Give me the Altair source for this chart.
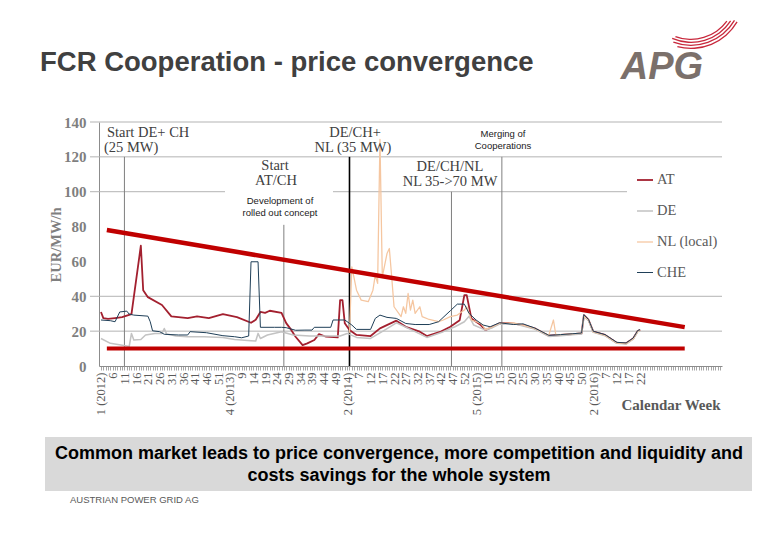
import json
import altair as alt
import pandas as pd

# ---------------- data ----------------
series_names = ["AT", "DE", "NL (local)", "CHE"]
series_colors = ["#A3202F", "#C3C3C3", "#F5C6A0", "#1F3F58"]
series_widths = [1.8, 1.0, 1.0, 1.3]

# week index: 0 = week 1 of 2012
weeks_at = [0, 1, 3, 6, 9, 13, 17, 18, 20, 26, 30, 37, 41, 46, 52, 58, 64, 66, 68, 70,
            72, 77, 79, 81, 83, 86, 88, 91, 93, 96, 101, 102, 103, 104, 106, 109, 115, 119, 126, 130,
            136, 139, 145, 149, 153, 155, 156, 158, 162, 164, 167, 170, 174, 180, 185, 191, 196, 201, 205, 206,
            208, 210, 215, 220, 224, 227, 229, 230]
at = [31, 27.5, 27, 27.5, 28, 29.8, 69, 43.5, 39.5, 35, 28.5, 27.5, 28.5, 27.5, 29.8, 28, 24.8, 26.5, 31, 30.5,
      31.7, 30.5, 24.6, 21, 16.8, 12, 13, 14.9, 18.3, 16.8, 16.4, 37.8, 37.8, 24.5, 20.6, 17.8, 17.2, 21.6, 26, 22.5,
      19.7, 17.2, 19.7, 22.5, 26.3, 40.7, 40.7, 27.3, 23.5, 20.6, 22.5, 24.5, 24.8, 23.5, 21.6, 17.4, 17.8, 18.3, 18.7, 29.2,
      26.4, 19.7, 17.8, 13.4, 13, 15.8, 20.2, 20.6]

weeks_de = [0, 4, 11, 12, 13, 14, 17, 19, 23, 26, 27, 28, 32, 37, 44, 52, 57, 64, 66, 67,
            68, 71, 77, 82, 89, 102, 105, 109, 115, 121, 126, 132, 139, 146, 151, 155, 157, 159, 164, 167,
            170, 176, 180, 185, 191, 196, 201, 205, 206, 208, 210, 215, 220, 224, 227, 229, 230]
de = [15.8, 13, 11.5, 11, 18.7, 14.9, 15.2, 17.8, 18.7, 18.7, 21.5, 18.3, 17.2, 16.8, 16.8, 16.4, 15.2, 14.5, 14.3, 18.7,
      15.8, 17.8, 19.7, 17.8, 17.2, 17.2, 18.7, 16.4, 15.8, 20.6, 24.8, 21, 16.4, 19.7, 22.5, 25.4, 28.6, 23.5, 20.6, 22,
      24, 24.4, 23, 21.2, 17, 17.4, 17.9, 18.3, 28.5, 26, 19.3, 17.4, 13, 12.6, 15.4, 19.8, 20.2]

weeks_nl = [106, 107, 109, 111, 114, 116, 117, 118, 119, 120, 122, 123, 124, 125, 128, 129, 130, 131, 132, 133,
            134, 136, 137, 140, 144, 146, 149, 152, 155, 156, 158, 162, 164, 167, 170, 176, 180, 185, 191, 193,
            194, 196, 201, 205, 206, 208, 210, 215, 220, 224, 227, 229, 230]
nl = [19, 56.9, 43.5, 37.8, 36.9, 43.5, 52.1, 47.4, 130, 51.2, 64.5, 67.4, 51.2, 34, 28.3, 34, 30.2, 41.6, 32.1, 37.8,
      30.2, 34, 28.3, 26.7, 25.4, 26.4, 28.3, 29.2, 32.1, 34, 26.4, 24.5, 21, 22.5, 24.5, 24.8, 23.5, 21.6, 17.6, 26.4,
      18, 18, 18.5, 18.9, 28.8, 26.2, 19.5, 17.6, 13.2, 12.8, 15.6, 20, 20.4]

weeks_che = [0, 4, 6, 8, 11, 12, 14, 20, 21, 22, 25, 27, 33, 37, 38, 45, 52, 57, 60, 63,
             64, 67, 68, 74, 77, 79, 83, 87, 90, 91, 98, 99, 104, 107, 109, 115, 117, 119, 122, 126,
             130, 134, 140, 144, 149, 152, 155, 157, 160, 163, 166, 170, 176, 180, 185, 191, 196, 201, 205, 206,
             208, 210, 215, 220, 224, 227, 229, 230]
che = [26.4, 26, 25.4, 31, 31.5, 29.8, 29.2, 28.6, 25.4, 20.2, 19.7, 18.2, 17.8, 17.8, 19.7, 19.1, 17.4, 16.8, 16.2, 17.2,
       59.8, 59.8, 22.2, 22.2, 22.2, 22, 20.5, 20.6, 20.6, 22.2, 22.2, 26.4, 26.4, 23.5, 21, 21, 27.3, 29.2, 27.9, 27.3,
       24.4, 23.8, 23.8, 25.4, 31.7, 35.5, 35.5, 30.2, 26.4, 23.5, 22.5, 24.8, 23.8, 24.2, 21.8, 17.6, 18, 18.5, 18.9, 29.4,
       26.6, 19.9, 18, 13.6, 13.2, 16, 20.4, 20.8]

# trend annotations (red lines)
trend_weeks = [2.5, 249]
trend_values = [78, 22.3]
floor_weeks = [2.5, 249]
floor_values = [10, 10]

# events (vertical lines)
event_names = ["Start DE+CH", "Start AT/CH", "DE/CH+NL", "DE/CH/NL 70", "Merging"]
event_weeks = [10, 78, 106, 149.5, 171]
event_tops = [120, 81, 120, 100, 120]

grid_values = [20, 40, 100, 120, 140]
y_ticks = [0, 20, 40, 60, 80, 100, 120, 140]

x_labels = ["1 (2012)", "6", "11", "16", "21", "26", "31", "36", "41", "46", "51",
            "4 (2013)", "9", "14", "19", "24", "29", "34", "39", "44", "49",
            "2 (2014)", "7", "12", "17", "22", "27", "32", "37", "42", "47", "52",
            "5 (2015)", "10", "15", "20", "25", "30", "35", "40", "45", "50",
            "2 (2016)", "7", "12", "17", "22"]

# ---------------- tables ----------------
rows = []
for name, wk, vals in [("AT", weeks_at, at), ("DE", weeks_de, de),
                       ("NL (local)", weeks_nl, nl), ("CHE", weeks_che, che)]:
    assert len(wk) == len(vals), name
    for w, v in zip(wk, vals):
        rows.append({"series": name, "week": w, "price": v})
df = pd.DataFrame(rows)

trend_df = pd.DataFrame({"week": trend_weeks, "price": trend_values})
floor_df = pd.DataFrame({"week": floor_weeks, "price": floor_values})
events = pd.DataFrame({"event": event_names, "week": event_weeks, "top": event_tops})
grid_df = pd.DataFrame({"price": grid_values})
one = pd.DataFrame({"k": [0]})

W, H = 623, 244

xscale = alt.Scale(domain=[-0.85, 264.9], nice=False, zero=False)
yscale = alt.Scale(domain=[0, 140], nice=False, zero=True)
label_expr = ("(datum.value % 5 == 0 && datum.value <= 230) ? "
              + json.dumps(x_labels) + "[datum.value / 5] : ''")
xaxis = alt.Axis(values=list(range(0, 265)), labelExpr=label_expr, labelAngle=270,
                 labelAlign="right", labelBaseline="middle", labelFont="Liberation Serif",
                 labelFontSize=12.5, labelColor="#595959", labelPadding=2, labelOverlap=False,
                 labelFlush=False, labelBound=False, tickSize=4, tickColor="#A6A6A6", tickWidth=1,
                 domainColor="#8C8C8C", grid=False, title=None)
yaxis = alt.Axis(values=y_ticks, labelFont="Liberation Serif", labelFontWeight="bold",
                 labelFontSize=15, labelColor="#7F7F7F", labelPadding=13, ticks=False,
                 grid=False, domainColor="#8C8C8C", title=None)


def X(f):
    return alt.X(f, type="quantitative", scale=xscale, axis=xaxis)


def Y(f):
    return alt.Y(f, type="quantitative", scale=yscale, axis=yaxis)


def text(s, x, y, size, font="Liberation Serif", weight="normal", color="#404040",
         align="center", angle=0, style="normal"):
    return alt.Chart(one).mark_text(
        text=s, align=align, baseline="middle", font=font, fontSize=size,
        fontWeight=weight, color=color, angle=angle, fontStyle=style
    ).encode(x=alt.value(x), y=alt.value(y))


def box(x, x2, y, y2, color):
    return alt.Chart(one).mark_rect(color=color).encode(
        x=alt.value(x), x2=alt.value(x2), y=alt.value(y), y2=alt.value(y2))


grid = alt.Chart(grid_df).mark_rule(color="#B3B3B3", strokeWidth=1).encode(
    y=Y("price"), x=alt.value(-9), x2=alt.value(W))

mask = box(126, 234, 38, 100, "white")

ev_gray = alt.Chart(events).transform_filter(alt.datum.event != "DE/CH+NL").mark_rule(
    color="#7F7F7F", strokeWidth=1).encode(x=X("week"), y=Y("top"), y2=alt.datum(0))
ev_black = alt.Chart(events).transform_filter(alt.datum.event == "DE/CH+NL").mark_rule(
    color="#000000", strokeWidth=1.6).encode(x=X("week"), y=Y("top"), y2=alt.datum(0))

lines = alt.Chart(df).mark_line(strokeJoin="round").encode(
    x=X("week"), y=Y("price"),
    color=alt.Color("series:N", scale=alt.Scale(domain=series_names, range=series_colors),
                    legend=alt.Legend(title=None, orient="none", legendX=528, legendY=40,
                                      symbolType="stroke", symbolSize=256, symbolStrokeWidth=1.5,
                                      labelFont="Liberation Serif", labelFontSize=14.5,
                                      labelColor="#595959", rowPadding=15, padding=9,
                                      fillColor="white", labelOffset=3)),
    strokeWidth=alt.StrokeWidth("series:N", scale=alt.Scale(domain=series_names, range=series_widths),
                                legend=None),
)

trend = alt.Chart(trend_df).mark_line(color="#C00000", strokeWidth=4.5, strokeCap="butt").encode(
    x=X("week"), y=Y("price"))
floor = alt.Chart(floor_df).mark_line(color="#C00000", strokeWidth=4, strokeCap="butt").encode(
    x=X("week"), y=Y("price"))

notes = [
    text("Start DE+ CH", 8, 11, 14.5, align="left"),
    text("(25 MW)", 5, 26, 14.5, align="left"),
    text("Start", 176, 44, 14.5),
    text("AT/CH", 177, 59, 14.5),
    text("Development of", 181, 79, 9.5, font="Liberation Sans", color="#1A1A1A"),
    text("rolled out concept", 181, 91, 9.5, font="Liberation Sans", color="#1A1A1A"),
    text("DE/CH+", 256, 11, 14.5),
    text("NL (35 MW)", 254, 26, 14.5),
    text("Merging of", 404, 12, 9.5, font="Liberation Sans", color="#1A1A1A"),
    text("Cooperations", 404, 24, 9.5, font="Liberation Sans", color="#1A1A1A"),
    text("DE/CH/NL", 351, 45, 14.5),
    text("NL 35->70 MW", 351, 60, 14.5),
    text("EUR/MW/h", -42, 123, 14.5, weight="bold", color="#7F7F7F", angle=270),
    text("Calendar Week", 572, 283, 15, weight="bold", color="#595959"),
]

page = [
    text("FCR Cooperation - price convergence", -59, -59, 27.5, font="Liberation Sans",
         weight="bold", color="#404040", align="left"),
    text("APG", 563, -54, 38, font="Liberation Sans", weight="bold", color="#7B706B", style="italic"),
    box(-54, 653, 315, 369, "#D9D9D9"),
    text("Common market leads to price convergence, more competition and liquidity and",
         300, 332, 18, font="Liberation Sans", weight="bold", color="#000000"),
    text("costs savings for the whole system", 300, 354, 18, font="Liberation Sans",
         weight="bold", color="#000000"),
    text("AUSTRIAN POWER GRID AG", -29, 378, 9.5, font="Liberation Sans", color="#595959",
         align="left"),
]

swoosh = [
    alt.Chart(one).mark_arc(color="#C8283C", radius=r, radius2=r - 1.3, theta=t1, theta2=t2).encode(
        x=alt.value(592), y=alt.value(-127))
    for r, t1, t2 in [(45, 2.2, 3.5), (48, 2.15, 3.55), (51, 2.1, 3.5), (54, 2.1, 3.4)]
]

chart = alt.layer(
    grid, mask, ev_gray, ev_black, lines, trend, floor, *notes, *page, *swoosh
).properties(
    width=W, height=H,
    autosize=alt.AutoSizeParams(type="none"),
    padding={"left": 91, "top": 114, "right": 50, "bottom": 164},
    background="white",
).configure_view(stroke=None)

chart.save("out.html", embed_options={"renderer": "svg", "actions": False})
